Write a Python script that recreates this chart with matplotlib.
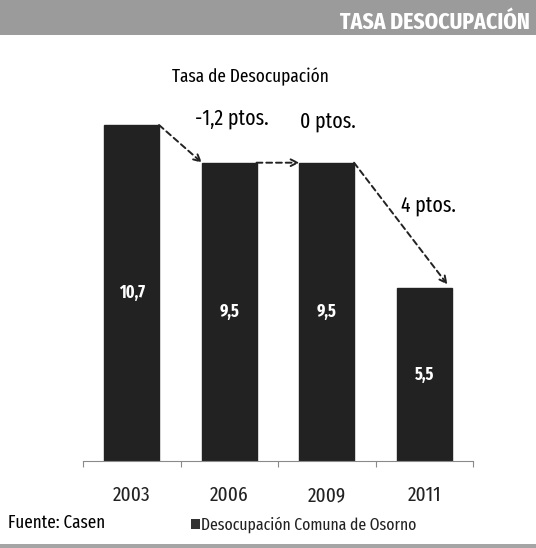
import matplotlib
matplotlib.use("Agg")
import matplotlib.pyplot as plt

years = ["2003", "2006", "2009", "2011"]
values = [10.7, 9.5, 9.5, 5.5]
value_labels = ["10,7", "9,5", "9,5", "5,5"]
change_labels = ["-1,2 ptos.", "0 ptos.", "4 ptos."]

FAM = ["Fira Sans Extra Condensed", "DejaVu Sans"]
plt.rcParams['font.family'] = FAM

W, H = 536, 548
fig = plt.figure(figsize=(W / 100, H / 100), dpi=100)
fig.patch.set_facecolor("white")

def fx(px):
    return px / W

def fy(py):
    return 1 - py / H

# header band
fig.patches.append(plt.Rectangle((0, fy(35)), 1, 35 / H, transform=fig.transFigure,
                                 facecolor="#9b9b9b", edgecolor="none", zorder=0))
fig.text(fx(530), fy(22), "TASA DESOCUPACIÓN", color="white", fontsize=17,
         fontweight="bold", ha="right", va="center")
# bottom strip
fig.patches.append(plt.Rectangle((0, 0), 1, 4 / H, transform=fig.transFigure,
                                 facecolor="#a5a5a5", edgecolor="none", zorder=0))

ax = fig.add_axes([fx(83), fy(461), (473 - 83) / W, (461 - 100) / H])
x = list(range(len(years)))
bw = 0.56
ax.bar(x, values, width=bw, color="#222222", edgecolor="#222222", zorder=2)
ax.set_xlim(-0.5, len(years) - 0.5)
ax.set_ylim(0, 361 / 31.4)
for s in ["top", "right", "left"]:
    ax.spines[s].set_visible(False)
ax.spines["bottom"].set_color("#8a8a8a")
ax.set_yticks([])
ax.set_xticks([i - 0.5 for i in range(len(years) + 1)])
ax.set_xticklabels([""] * (len(years) + 1))
ax.tick_params(axis="x", length=4, color="#8a8a8a")
for i, y in enumerate(years):
    ax.annotate(y, xy=(i, 0), xytext=(0, -25), textcoords="offset points",
                ha="center", va="center", fontsize=15, color="#222222")

for i, (v, lab) in enumerate(zip(values, value_labels)):
    ax.text(i, v / 2, lab, ha="center", va="center", color="white",
            fontsize=12.5, fontweight="bold")

arrowprops = dict(arrowstyle="->", linestyle=(0, (3, 2)), color="#222222", lw=1.4,
                  shrinkA=0, shrinkB=0, mutation_scale=12)
h = bw / 2
ax.annotate("", xy=(1 - h, values[1]), xytext=(0 + h, values[0]), arrowprops=arrowprops)
ax.annotate("", xy=(2 - h, values[2]), xytext=(1 + h, values[1]), arrowprops=arrowprops)
ax.annotate("", xy=(3 + h * 0.85, values[3] + 0.12), xytext=(2 + h, values[2]), arrowprops=arrowprops)

ax.annotate(change_labels[0], xy=(1, values[0]), xytext=(1.5, 5), textcoords="offset points",
            ha="center", va="center", fontsize=15.5)
ax.annotate(change_labels[1], xy=(2, values[0]), xytext=(1, 3), textcoords="offset points",
            ha="center", va="center", fontsize=15.5)
ax.annotate(change_labels[2], xy=(3, (values[2] + values[3]) / 2), xytext=(3, 14),
            textcoords="offset points", ha="center", va="center", fontsize=15.5)

fig.text(fx(250), fy(77), "Tasa de Desocupación", ha="center", va="center", fontsize=13.5)
fig.text(fx(8), fy(523), "Fuente: Casen", ha="left", va="center", fontsize=13.3)
fig.patches.append(plt.Rectangle((fx(191), fy(529)), 9 / W, 10 / H, transform=fig.transFigure,
                                 facecolor="#333333", edgecolor="none"))
fig.text(fx(201), fy(525), "Desocupación Comuna de Osorno", ha="left", va="center",
         fontsize=12.3, color="#222222")

fig.savefig("out.png", dpi=100)
